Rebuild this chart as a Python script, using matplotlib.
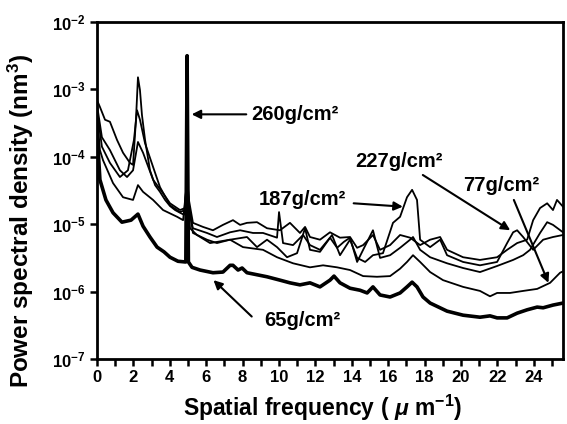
import numpy as np
import matplotlib
matplotlib.use("Agg")
import matplotlib.pyplot as plt
from matplotlib.ticker import FixedLocator, FuncFormatter

plt.rcParams['font.family'] = ['Liberation Sans', 'DejaVu Sans']
plt.rcParams['mathtext.fontset'] = 'custom'
plt.rcParams['mathtext.rm'] = 'Liberation Sans:bold'
plt.rcParams['mathtext.it'] = 'Liberation Sans:bold:italic'
plt.rcParams['mathtext.bf'] = 'Liberation Sans:bold'

# ---- data (log10 of PSD in nm^3) ----
x_65 = [0.00, 0.16, 0.49, 0.88, 1.37, 1.87, 2.25, 2.53, 2.91, 3.30, 3.68, 4.01, 4.45, 4.84, 4.88, 4.95, 5.02,
        5.22, 5.66, 6.37, 6.92, 7.31, 7.47, 7.75, 7.97, 8.24, 8.79, 9.34, 10.05, 10.60, 11.15, 11.70, 12.25,
        12.80, 13.02, 13.35, 13.90, 14.45, 14.84, 15.16, 15.55, 16.10, 16.65, 17.03, 17.31, 17.58, 17.91,
        18.30, 19.23, 20.11, 21.04, 21.59, 21.98, 22.53, 23.08, 23.63, 24.18, 24.51, 25.05, 25.60]
log_65 = [-3.60, -4.34, -4.64, -4.83, -4.97, -4.94, -4.85, -5.03, -5.19, -5.34, -5.41, -5.49, -5.55, -5.56, -5.56, -2.50, -5.56,
          -5.64, -5.68, -5.72, -5.71, -5.61, -5.61, -5.68, -5.65, -5.72, -5.75, -5.78, -5.83, -5.87, -5.90, -5.87, -5.93,
          -5.83, -5.77, -5.87, -5.95, -5.98, -6.02, -5.93, -6.05, -6.08, -6.02, -5.93, -5.86, -5.93, -6.08,
          -6.17, -6.29, -6.35, -6.38, -6.36, -6.39, -6.39, -6.32, -6.27, -6.23, -6.24, -6.20, -6.17]

x_77 = [0.00, 0.16, 0.33, 0.88, 1.43, 1.98, 2.25, 2.53, 3.08, 3.63, 4.40, 4.73, 4.95, 5.11, 5.49, 6.21, 7.31,
        8.02, 9.12, 9.89, 10.77, 11.70, 12.42, 13.19, 13.90, 14.62, 15.38, 16.10, 16.65, 17.03, 17.36, 17.75,
        18.30, 19.01, 20.11, 21.04, 21.59, 21.98, 22.69, 23.41, 24.18, 24.89, 25.44, 25.60]
log_77 = [-3.35, -3.90, -4.05, -4.39, -4.60, -4.64, -4.42, -4.52, -4.64, -4.79, -4.89, -4.94, -4.34, -5.06, -5.16, -5.28, -5.23,
          -5.34, -5.38, -5.49, -5.58, -5.64, -5.61, -5.64, -5.68, -5.77, -5.78, -5.77, -5.66, -5.56, -5.46, -5.56,
          -5.71, -5.83, -5.93, -5.99, -6.07, -6.02, -6.02, -5.99, -5.96, -5.87, -5.72, -5.70]

x_260 = [0.00, 0.16, 0.44, 0.71, 1.10, 1.43, 1.81, 1.98, 2.14, 2.25, 2.36, 2.47, 2.64, 2.91, 3.19, 3.46, 3.74,
         4.01, 4.29, 4.56, 4.78, 4.95, 5.05, 5.27, 5.82, 6.37, 6.92, 7.47, 7.86, 8.24, 8.79, 9.34, 10.05, 10.60,
         11.15, 11.43, 11.70, 12.25, 12.80, 13.35, 13.90, 14.29, 14.62, 15.16, 15.55, 16.10, 16.65, 17.20, 17.75,
         18.30, 18.85, 19.23, 20.11, 21.04, 21.98, 22.53, 23.08, 23.63, 23.96, 24.34, 24.73, 25.05, 25.27, 25.60]
log_260 = [-3.16, -3.26, -3.45, -3.48, -3.75, -3.94, -4.09, -4.12, -3.45, -2.82, -3.01, -3.38, -3.75, -4.20, -4.42, -4.52, -4.64,
           -4.73, -4.79, -4.83, -4.86, -4.34, -4.64, -4.98, -5.04, -5.09, -5.01, -4.94, -5.01, -4.98, -4.97, -5.06, -5.09, -4.98,
           -5.13, -5.04, -5.19, -5.23, -5.12, -5.20, -5.19, -5.35, -5.31, -5.16, -5.38, -5.31, -5.16, -5.20, -5.31,
           -5.23, -5.19, -5.38, -5.49, -5.53, -5.49, -5.38, -5.28, -5.23, -4.94, -4.76, -4.69, -4.79, -4.64, -4.74]

x_187 = [0.00, 0.27, 0.71, 1.26, 1.70, 2.03, 2.20, 2.36, 2.64, 3.08, 3.46, 4.01, 4.56, 4.84, 4.95, 5.05, 5.27,
         6.04, 6.59, 7.31, 7.86, 8.57, 9.12, 9.89, 10.00, 10.22, 10.77, 11.32, 11.70, 12.25, 12.80, 13.19, 13.57,
         13.90, 14.29, 14.62, 15.16, 15.55, 16.10, 16.65, 17.20, 17.36, 17.75, 18.30, 19.23, 20.11, 21.04, 21.98,
         22.86, 23.41, 23.79, 24.34, 24.73, 25.05, 25.60]
log_187 = [-3.31, -3.85, -4.09, -4.30, -4.20, -3.75, -3.31, -3.45, -3.80, -4.15, -4.45, -4.72, -4.82, -4.79, -4.27, -4.79, -5.06,
           -5.13, -5.19, -5.12, -5.09, -5.13, -5.13, -5.20, -4.82, -5.28, -5.31, -5.16, -5.31, -5.38, -5.20, -5.35, -5.26,
           -5.20, -5.56, -5.38, -5.09, -5.50, -5.46, -5.35, -5.23, -5.19, -5.38, -5.49, -5.58, -5.65, -5.71, -5.62,
           -5.53, -5.46, -5.38, -5.13, -4.97, -5.01, -5.12]

x_227 = [0.00, 0.27, 0.71, 1.26, 1.65, 1.98, 2.25, 2.53, 3.08, 3.63, 4.01, 4.56, 4.84, 4.95, 5.05, 5.27, 6.04,
         6.59, 7.31, 8.24, 8.79, 9.34, 9.89, 10.44, 10.99, 11.43, 11.70, 12.25, 12.91, 13.35, 13.90, 14.29, 14.73,
         15.16, 15.71, 16.26, 16.65, 17.03, 17.31, 17.58, 17.75, 18.30, 18.85, 19.23, 20.11, 21.04, 21.98, 22.53,
         22.86, 23.08, 23.41, 23.96, 24.51, 25.05, 25.60]
log_227 = [-3.23, -3.71, -3.90, -4.20, -4.30, -4.20, -3.78, -3.94, -4.34, -4.54, -4.69, -4.79, -4.76, -4.20, -4.72, -5.13, -5.23,
           -5.28, -5.23, -5.19, -5.34, -5.23, -5.34, -5.49, -5.43, -5.06, -5.38, -5.41, -5.16, -5.46, -5.23, -5.50, -5.56,
           -5.46, -5.43, -4.98, -4.89, -4.60, -4.49, -4.64, -5.23, -5.34, -5.23, -5.46, -5.56, -5.61, -5.56, -5.28,
           -5.12, -5.09, -5.19, -5.38, -5.23, -5.19, -5.16]

y_exponents = [-7, -6, -5, -4, -3, -2]
x_ticks = list(range(0, 26))

# ---- figure ----
W, H = 567, 424
fig = plt.figure(figsize=(W / 100, H / 100), dpi=100)
ax = fig.add_axes([97 / W, 1 - 359 / H, (563 - 97) / W, (359 - 22) / H])

thin = 1.3
ax.plot(x_260, 10 ** np.array(log_260), color='black', lw=thin)
ax.plot(x_187, 10 ** np.array(log_187), color='black', lw=thin)
ax.plot(x_227, 10 ** np.array(log_227), color='black', lw=thin)
ax.plot(x_77, 10 ** np.array(log_77), color='black', lw=thin)
ax.plot(x_65, 10 ** np.array(log_65), color='black', lw=2.6)

ax.set_yscale('log')
ax.set_xlim(0, 25.6)
ax.set_ylim(1e-7, 1e-2)

ax.yaxis.set_major_locator(FixedLocator([10.0 ** e for e in y_exponents]))
ax.yaxis.set_minor_locator(FixedLocator([]))
ax.yaxis.set_major_formatter(FuncFormatter(lambda v, p: r'$\mathbf{10^{%d}}$' % int(round(np.log10(v)))))
ax.xaxis.set_major_locator(FixedLocator(x_ticks))
ax.xaxis.set_major_formatter(FuncFormatter(lambda v, p: '%d' % v if int(round(v)) % 2 == 0 else ''))

for s in ax.spines.values():
    s.set_linewidth(2.0)
ax.tick_params(direction='out', length=5, width=1.8, labelsize=12, pad=3)
for lab in ax.get_xticklabels():
    lab.set_fontweight('bold')

ax.set_xlabel(r'Spatial frequency ( $\mu$ m$^{-1}$)', fontsize=16.5, fontweight='bold')
ax.set_ylabel(r'Power spectral density (nm$^{3}$)', fontsize=17.5, fontweight='bold')
ax.xaxis.set_label_coords(0.485, -0.10)
ax.yaxis.set_label_coords(-0.13, 0.41)

arrow = dict(arrowstyle='-|>', lw=1.5, color='black', mutation_scale=13, shrinkA=0, shrinkB=0)
kw = dict(fontsize=14.5, fontweight='bold', va='center')
ax.annotate('260g/cm²', xy=(5.2, 10 ** -3.37), xytext=(8.5, 10 ** -3.37), **kw)
ax.annotate('', xy=(5.2, 10 ** -3.37), xytext=(8.2, 10 ** -3.37), arrowprops=arrow)
ax.annotate('227g/cm²', xy=(22.7, 10 ** -5.09), xytext=(14.2, 10 ** -4.07), **kw)
ax.annotate('', xy=(22.7, 10 ** -5.09), xytext=(17.9, 10 ** -4.27), arrowprops=arrow)
ax.annotate('77g/cm²', xy=(24.8, 10 ** -5.87), xytext=(20.1, 10 ** -4.42), **kw)
ax.annotate('', xy=(24.8, 10 ** -5.87), xytext=(22.9, 10 ** -4.64), arrowprops=arrow)
ax.annotate('187g/cm²', xy=(16.8, 10 ** -4.74), xytext=(8.9, 10 ** -4.64), **kw)
ax.annotate('', xy=(16.8, 10 ** -4.74), xytext=(14.1, 10 ** -4.69), arrowprops=arrow)
ax.annotate('65g/cm²', xy=(6.4, 10 ** -5.83), xytext=(9.2, 10 ** -6.43), **kw)
ax.annotate('', xy=(6.4, 10 ** -5.83), xytext=(8.5, 10 ** -6.37), arrowprops=arrow)

fig.savefig('out.png', dpi=100)
